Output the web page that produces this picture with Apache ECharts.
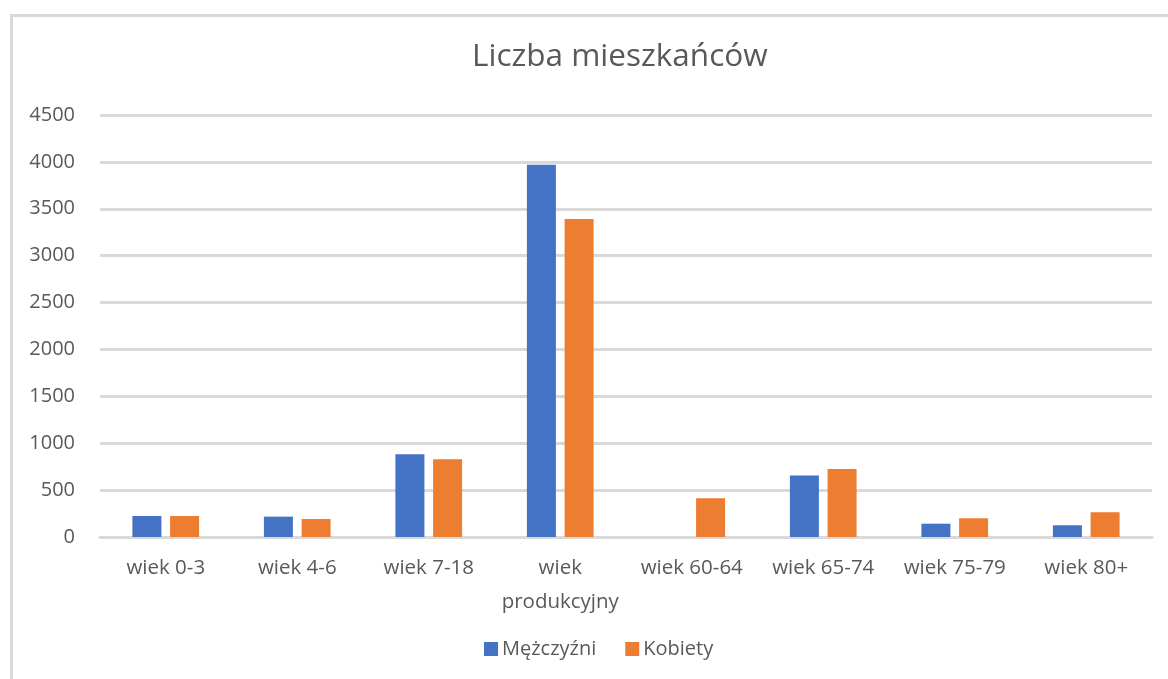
<!DOCTYPE html>
<html>
<head>
<meta charset="utf-8">
<script src="https://cdn.jsdelivr.net/npm/echarts@6/dist/echarts.min.js"></script>
<style>
  html, body { margin: 0; padding: 0; background: #fff; overflow: hidden; }
  #frame {
    position: absolute; left: 10px; top: 14px; width: 1220px; height: 720px;
    border: 3px solid #d9d9d9; box-sizing: border-box;
  }
  #chart { position: absolute; left: 0; top: 0; width: 1168px; height: 679px; }
</style>
</head>
<body>
<div id="frame"></div>
<div id="chart"></div>
<script>
// Liczba mieszkańców wg grup wieku
const categories = ['wiek 0-3', 'wiek 4-6', 'wiek 7-18', 'wiek\nprodukcyjny',
  'wiek 60-64', 'wiek 65-74', 'wiek 75-79', 'wiek 80+'];
const mezczyzni = [224, 217, 883, 3970, 0, 655, 142, 125];
const kobiety   = [224, 192, 830, 3390, 413, 726, 200, 264];
const yTicks = { min: 0, max: 4500, interval: 500 };

const FONT = "'Open Sans', sans-serif";
const TXT = '#595959';
const GRID = '#d9d9d9';

const chart = echarts.init(document.getElementById('chart'));
chart.setOption({
  backgroundColor: 'transparent',
  animation: false,
  textStyle: { fontFamily: FONT },
  title: {
    text: 'Liczba mieszkańców',
    left: 472, top: 41, padding: 0,
    textStyle: { fontFamily: FONT, fontSize: 31.5, fontWeight: 'normal', color: TXT },
  },
  legend: {
    left: 484, top: 638, padding: 0,
    itemWidth: 14, itemHeight: 14, itemGap: 29,
    icon: 'rect',
    textStyle: { fontFamily: FONT, fontSize: 20, color: TXT, lineHeight: 22, padding: [0, 0, 0, -1] },
    data: ['Mężczyźni', 'Kobiety'],
  },
  grid: { left: 100, right: 16, top: 115, bottom: 142 },
  xAxis: {
    type: 'category',
    data: categories,
    axisLine: { lineStyle: { color: GRID, width: 3 } },
    axisTick: { show: false },
    axisLabel: { color: TXT, fontFamily: FONT, fontSize: 20.5, lineHeight: 34, margin: 14, interval: 0 },
  },
  yAxis: {
    type: 'value',
    min: yTicks.min, max: yTicks.max, interval: yTicks.interval,
    axisLine: { show: false },
    axisTick: { show: false },
    axisLabel: { color: TXT, fontFamily: FONT, fontSize: 20, margin: 25, formatter: (v) => String(v) },
    splitLine: { lineStyle: { color: GRID, width: 3 } },
  },
  series: [
    { name: 'Mężczyźni', type: 'bar', data: mezczyzni, barWidth: 29, barGap: '30%',
      itemStyle: { color: '#4472c4' } },
    { name: 'Kobiety', type: 'bar', data: kobiety, barWidth: 29,
      itemStyle: { color: '#ed7d31' } },
  ],
});
</script>
</body>
</html>
